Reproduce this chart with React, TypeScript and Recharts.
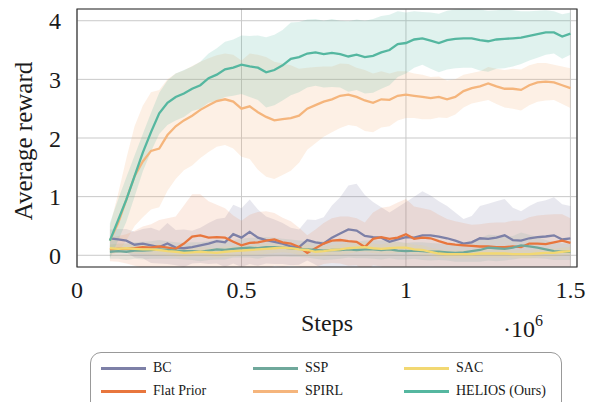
import React from "react";
import {
  ComposedChart, Area, Line, XAxis, YAxis, CartesianGrid, ReferenceArea,
} from "recharts";

// steps in units of 1e6
const STEPS = [
  0.1, 0.125, 0.15, 0.175, 0.2, 0.225, 0.25, 0.275, 0.3, 0.325,
  0.35, 0.375, 0.4, 0.425, 0.45, 0.475, 0.5, 0.525, 0.55, 0.575,
  0.6, 0.625, 0.65, 0.675, 0.7, 0.725, 0.75, 0.775, 0.8, 0.825,
  0.85, 0.875, 0.9, 0.925, 0.95, 0.975, 1.0, 1.025, 1.05, 1.075,
  1.1, 1.125, 1.15, 1.175, 1.2, 1.225, 1.25, 1.275, 1.3, 1.325,
  1.35, 1.375, 1.4, 1.425, 1.45, 1.475, 1.5,
];

const HELIOS = [
  0.25, 0.6, 0.95, 1.35, 1.75, 2.1, 2.42, 2.6, 2.7, 2.76,
  2.84, 2.9, 3.02, 3.08, 3.17, 3.2, 3.25, 3.22, 3.2, 3.12,
  3.16, 3.24, 3.35, 3.38, 3.44, 3.46, 3.43, 3.45, 3.43, 3.39,
  3.42, 3.38, 3.4, 3.46, 3.5, 3.6, 3.62, 3.68, 3.7, 3.66,
  3.62, 3.67, 3.69, 3.7, 3.7, 3.67, 3.65, 3.68, 3.69, 3.7,
  3.71, 3.74, 3.77, 3.8, 3.8, 3.73, 3.78,
];
const HELIOS_STD = [
  0.3, 0.35, 0.38, 0.35, 0.32, 0.33, 0.35, 0.38, 0.4, 0.4,
  0.38, 0.4, 0.42, 0.45, 0.47, 0.48, 0.5, 0.52, 0.55, 0.6,
  0.6, 0.6, 0.62, 0.6, 0.58, 0.57, 0.57, 0.58, 0.57, 0.6,
  0.6, 0.62, 0.63, 0.62, 0.6, 0.56, 0.52, 0.48, 0.45, 0.48,
  0.5, 0.5, 0.5, 0.5, 0.5, 0.52, 0.52, 0.5, 0.5, 0.48,
  0.45, 0.42, 0.4, 0.38, 0.36, 0.38, 0.36,
];

const SPIRL = [
  0.25, 0.55, 0.95, 1.35, 1.6, 1.78, 1.82, 2.05, 2.2, 2.3,
  2.38, 2.48, 2.56, 2.63, 2.66, 2.62, 2.5, 2.54, 2.44, 2.36,
  2.3, 2.32, 2.34, 2.38, 2.5, 2.56, 2.62, 2.66, 2.72, 2.74,
  2.7, 2.64, 2.6, 2.66, 2.65, 2.72, 2.74, 2.72, 2.7, 2.68,
  2.7, 2.66, 2.7, 2.8, 2.85, 2.88, 2.93, 2.88, 2.84, 2.84,
  2.82, 2.9, 2.95, 2.96, 2.95, 2.9, 2.85,
];
const SPIRL_STD = [
  0.25, 0.5, 0.7, 0.85, 0.95, 1.0, 1.0, 0.95, 0.9, 0.85,
  0.85, 0.82, 0.8, 0.78, 0.78, 0.8, 0.82, 0.9, 0.98, 1.02,
  1.0, 0.95, 0.9, 0.8, 0.7, 0.65, 0.6, 0.56, 0.55, 0.52,
  0.5, 0.52, 0.5, 0.48, 0.45, 0.42, 0.4, 0.38, 0.38, 0.36,
  0.35, 0.32, 0.3, 0.28, 0.26, 0.26, 0.28, 0.3, 0.32, 0.34,
  0.35, 0.34, 0.33, 0.32, 0.3, 0.32, 0.34,
];

const BC = [
  0.29, 0.27, 0.25, 0.18, 0.2, 0.17, 0.14, 0.2, 0.13, 0.12,
  0.14, 0.17, 0.2, 0.24, 0.22, 0.36, 0.3, 0.4, 0.3, 0.26,
  0.23, 0.2, 0.15, 0.14, 0.26, 0.22, 0.2, 0.3, 0.37, 0.44,
  0.42, 0.33, 0.31, 0.3, 0.23, 0.27, 0.31, 0.3, 0.34, 0.34,
  0.32, 0.29, 0.25, 0.2, 0.22, 0.29, 0.28, 0.3, 0.34, 0.26,
  0.25, 0.29, 0.31, 0.32, 0.34, 0.27, 0.29,
];
const BC_STD = [
  0.15, 0.18, 0.2, 0.22, 0.25, 0.3, 0.28, 0.35, 0.3, 0.32,
  0.28, 0.3, 0.35, 0.38, 0.42, 0.5, 0.5, 0.55, 0.48, 0.4,
  0.38, 0.35, 0.32, 0.3, 0.35, 0.38, 0.45, 0.55, 0.62, 0.75,
  0.8, 0.7, 0.6, 0.52, 0.5, 0.55, 0.6, 0.7, 0.75, 0.68,
  0.6, 0.55, 0.48, 0.42, 0.45, 0.55, 0.6, 0.62, 0.62, 0.55,
  0.5, 0.55, 0.6, 0.62, 0.65, 0.6, 0.55,
];

const FLAT = [
  0.1, 0.11, 0.11, 0.12, 0.14, 0.13, 0.15, 0.13, 0.11, 0.2,
  0.32, 0.34, 0.3, 0.31, 0.3, 0.23, 0.17, 0.21, 0.22, 0.25,
  0.27, 0.22, 0.2, 0.14, 0.04, 0.12, 0.2, 0.25, 0.26, 0.24,
  0.23, 0.14, 0.28, 0.31, 0.28, 0.3, 0.36, 0.28, 0.3, 0.29,
  0.24, 0.2, 0.18, 0.17, 0.16, 0.15, 0.15, 0.14, 0.14, 0.15,
  0.14, 0.2, 0.2, 0.19, 0.22, 0.25, 0.21,
];
const FLAT_STD = [
  0.2, 0.22, 0.25, 0.3, 0.35, 0.4, 0.45, 0.5, 0.55, 0.65,
  0.72, 0.7, 0.62, 0.55, 0.5, 0.45, 0.42, 0.48, 0.52, 0.5,
  0.45, 0.42, 0.38, 0.33, 0.3, 0.32, 0.35, 0.38, 0.4, 0.42,
  0.4, 0.42, 0.45, 0.5, 0.55, 0.6, 0.6, 0.55, 0.5, 0.48,
  0.45, 0.42, 0.4, 0.38, 0.36, 0.38, 0.4, 0.42, 0.42, 0.44,
  0.45, 0.45, 0.48, 0.5, 0.48, 0.45, 0.42,
];

const SSP = [
  0.06, 0.07, 0.06, 0.08, 0.08, 0.09, 0.1, 0.09, 0.08, 0.07,
  0.07, 0.06, 0.08, 0.1, 0.09, 0.11, 0.12, 0.13, 0.12, 0.14,
  0.14, 0.13, 0.12, 0.11, 0.1, 0.09, 0.08, 0.09, 0.09, 0.1,
  0.09, 0.1, 0.1, 0.09, 0.1, 0.08, 0.07, 0.08, 0.07, 0.06,
  0.06, 0.05, 0.04, 0.05, 0.07, 0.09, 0.13, 0.12, 0.11, 0.13,
  0.17, 0.15, 0.13, 0.1, 0.07, 0.06, 0.06,
];
const SSP_STD = [
  0.12, 0.13, 0.14, 0.14, 0.15, 0.15, 0.16, 0.15, 0.14, 0.14,
  0.15, 0.16, 0.16, 0.17, 0.16, 0.15, 0.16, 0.17, 0.18, 0.17,
  0.16, 0.15, 0.15, 0.14, 0.14, 0.15, 0.16, 0.16, 0.15, 0.14,
  0.14, 0.15, 0.16, 0.16, 0.15, 0.15, 0.14, 0.14, 0.15, 0.15,
  0.14, 0.14, 0.15, 0.16, 0.18, 0.2, 0.22, 0.22, 0.2, 0.2,
  0.22, 0.2, 0.18, 0.16, 0.15, 0.14, 0.14,
];

const SAC = [
  0.12, 0.11, 0.12, 0.11, 0.1, 0.1, 0.09, 0.07, 0.06, 0.04,
  0.05, 0.06, 0.05, 0.04, 0.06, 0.07, 0.08, 0.09, 0.1, 0.11,
  0.12, 0.13, 0.12, 0.1, 0.09, 0.06, 0.07, 0.09, 0.1, 0.12,
  0.13, 0.14, 0.12, 0.11, 0.12, 0.13, 0.13, 0.1, 0.09, 0.06,
  0.03, 0.02, 0.02, 0.02, 0.02, 0.03, 0.03, 0.03, 0.03, 0.02,
  0.02, 0.02, 0.03, 0.04, 0.04, 0.06, 0.07,
];
const SAC_STD = [
  0.07, 0.07, 0.08, 0.08, 0.08, 0.09, 0.09, 0.08, 0.08, 0.07,
  0.07, 0.08, 0.08, 0.08, 0.09, 0.09, 0.08, 0.08, 0.09, 0.09,
  0.08, 0.08, 0.08, 0.09, 0.09, 0.08, 0.08, 0.08, 0.09, 0.09,
  0.08, 0.08, 0.08, 0.08, 0.09, 0.09, 0.08, 0.08, 0.08, 0.07,
  0.07, 0.07, 0.07, 0.07, 0.07, 0.07, 0.07, 0.07, 0.07, 0.07,
  0.07, 0.07, 0.07, 0.07, 0.07, 0.07, 0.07,
];

const X_TICKS = [0, 0.5, 1, 1.5];
const Y_TICKS = [0, 1, 2, 3, 4];

const SERIES = [
  { key: "bc", name: "BC", mean: BC, std: BC_STD, color: "#7d80a7", band: 0.18 },
  { key: "flat", name: "Flat Prior", mean: FLAT, std: FLAT_STD, color: "#e8763d", band: 0.14 },
  { key: "ssp", name: "SSP", mean: SSP, std: SSP_STD, color: "#6fa89b", band: 0.15 },
  { key: "spirl", name: "SPIRL", mean: SPIRL, std: SPIRL_STD, color: "#f5b57c", band: 0.2 },
  { key: "sac", name: "SAC", mean: SAC, std: SAC_STD, color: "#f2d872", band: 0.15 },
  { key: "helios", name: "HELIOS (Ours)", mean: HELIOS, std: HELIOS_STD, color: "#55b7a0", band: 0.18 },
];

const LEGEND_ORDER = ["bc", "ssp", "sac", "flat", "spirl", "helios"];

const rows = STEPS.map((s, i) => {
  const r: Record<string, number | number[]> = { step: s };
  SERIES.forEach((sr) => {
    r[sr.key] = sr.mean[i];
    r[sr.key + "Band"] = [sr.mean[i] - sr.std[i], sr.mean[i] + sr.std[i]];
  });
  return r;
});

const FONT = "'Liberation Serif', 'Times New Roman', serif";

export default function App() {
  return (
    <div style={{ position: "absolute", left: 0, top: 0, width: 599, height: 402, background: "#fff", fontFamily: FONT, color: "#1a1a1a", overflow: "hidden" }}>
      <ComposedChart width={599} height={345} data={rows}
        margin={{ top: 9, right: 22, left: 0, bottom: 48 }}>
        <CartesianGrid stroke="#c9c9c9" strokeWidth={1} />
        <XAxis dataKey="step" type="number" domain={[0, 1.52]} ticks={X_TICKS}
          allowDataOverflow tickLine={false} axisLine={false} tickMargin={8} height={30}
          tick={{ fontSize: 24, fill: "#1a1a1a", fontFamily: FONT }}
          tickFormatter={(v) => String(v)} />
        <YAxis type="number" domain={[-0.2, 4.2]} ticks={Y_TICKS} allowDataOverflow
          tickLine={false} axisLine={false} width={77} tickMargin={10}
          tick={{ fontSize: 24, fill: "#1a1a1a", fontFamily: FONT }} />
        {SERIES.map((s) => (
          <Area key={s.key + "b"} dataKey={s.key + "Band"} type="linear" stroke="none"
            fill={s.color} fillOpacity={s.band} isAnimationActive={false} activeDot={false} />
        ))}
        {SERIES.map((s) => (
          <Line key={s.key} dataKey={s.key} type="linear" stroke={s.color} strokeWidth={2.3}
            dot={false} activeDot={false} isAnimationActive={false} />
        ))}
        <ReferenceArea x1={0} x2={1.52} y1={-0.2} y2={4.2} fill="none" stroke="#333" strokeWidth={1.2} ifOverflow="extendDomain" />
      </ComposedChart>

      <svg width={50} height={270} style={{ position: "absolute", left: 0, top: 0 }}>
        <text x={0} y={0} transform="translate(23 141) rotate(-90)" textAnchor="middle"
          dominantBaseline="central" fontSize={25} fontFamily={FONT} fill="#1a1a1a">
          Average reward
        </text>
      </svg>
      <div style={{ position: "absolute", left: 327, top: 323, transform: "translate(-50%,-50%)", fontSize: 24 }}>
        Steps
      </div>
      <div style={{ position: "absolute", left: 503, top: 316, fontSize: 24, whiteSpace: "nowrap" }}>
        ·10<sup style={{ fontSize: 16, verticalAlign: "top", position: "relative", top: -4 }}>6</sup>
      </div>

      <div style={{ position: "absolute", left: 90, top: 352, width: 472, height: 70, border: "1px solid #999", borderRadius: 11, boxSizing: "border-box" }}>
        {LEGEND_ORDER.map((k, i) => {
          const s = SERIES.find((x) => x.key === k)!;
          const col = i % 3;
          const row = Math.floor(i / 3);
          const left = [10, 162, 313][col];
          return (
            <div key={k} style={{ position: "absolute", left, top: 6 + row * 23, height: 18, display: "flex", alignItems: "center", fontSize: 14, whiteSpace: "nowrap" }}>
              <span style={{ display: "inline-block", width: 45, height: 3, background: s.color, marginRight: 7 }} />
              {s.name}
            </div>
          );
        })}
      </div>
    </div>
  );
}
